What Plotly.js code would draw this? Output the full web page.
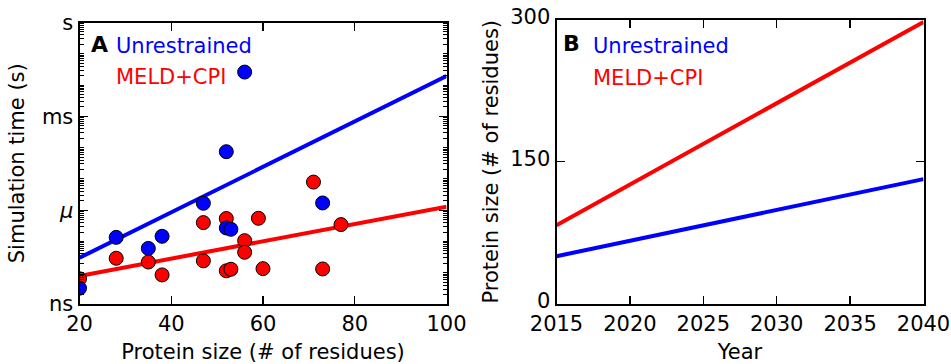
<!DOCTYPE html>
<html>
<head>
<meta charset="utf-8">
<script src="https://cdn.plot.ly/plotly-3.0.1.min.js"></script>
<style>html,body{margin:0;padding:0;background:#fff;}#chart{width:951px;height:364px;}</style>
</head>
<body>
<div id="chart"></div>
<script>
// Panel A data: protein size vs simulation time (s)
const blueSize = [20, 28, 35, 38, 47, 52, 52, 53, 56, 73];
const blueTime = [3.2e-9, 1.35e-7, 6e-8, 1.46e-7, 1.66e-6, 7.4e-5, 2.7e-7, 2.45e-7, 0.026, 1.7e-6];
const redSize = [20, 28, 35, 38, 47, 47, 52, 52, 53, 56, 56, 59, 60, 71, 73, 77];
const redTime = [6.4e-9, 2.9e-8, 2.2e-8, 8.5e-9, 4e-7, 2.4e-8, 5.4e-7, 1.15e-8, 1.29e-8, 1.06e-7, 4.5e-8, 5.5e-7, 1.35e-8, 7.9e-6, 1.32e-8, 3.45e-7];
const fitSize = [20, 100];
const blueFitTime = [3.0e-8, 1.95e-2];
const redFitTime = [7.9e-9, 1.29e-6];

// Panel B data: year vs protein size
const years = [2015, 2040];
const blueProj = [50, 131.6];
const redProj = [82.9, 298];

// Tick labels
const timeTickVals = [1e-9, 1e-6, 1e-3, 1];
const timeTickText = ['ns', '<i>μ</i>', 'ms', 's'];
const sizeTicks = [20, 40, 60, 80, 100];
const yearTicks = [2015, 2020, 2025, 2030, 2035, 2040];
const protTicks = [0, 150, 300];

const minorVals = [];
for (let d = -9; d < 0; d++) {
  for (let k = 1; k <= 9; k++) {
    if (k === 1 && d % 3 === 0) continue;
    minorVals.push(k * Math.pow(10, d));
  }
}

const BLUE = '#0000ff', RED = '#ff0000';
const FS = 21;
const font = {family: 'DejaVu Sans, sans-serif', size: FS, color: '#000'};

const traces = [
  {x: fitSize, y: blueFitTime, mode: 'lines', line: {color: BLUE, width: 4}, xaxis: 'x', yaxis: 'y'},
  {x: fitSize, y: redFitTime, mode: 'lines', line: {color: RED, width: 4}, xaxis: 'x', yaxis: 'y'},
  {x: redSize, y: redTime, mode: 'markers', marker: {color: RED, size: 14, line: {color: '#000', width: 1}}, xaxis: 'x', yaxis: 'y', cliponaxis: true},
  {x: blueSize, y: blueTime, mode: 'markers', marker: {color: BLUE, size: 14, line: {color: '#000', width: 1}}, xaxis: 'x', yaxis: 'y', cliponaxis: true},
  {x: years, y: redProj, mode: 'lines', line: {color: RED, width: 4}, xaxis: 'x2', yaxis: 'y2'},
  {x: years, y: blueProj, mode: 'lines', line: {color: BLUE, width: 4}, xaxis: 'x2', yaxis: 'y2'}
];

const axBase = {
  showline: true, linecolor: '#000', linewidth: 2, mirror: 'ticks',
  ticks: 'inside', ticklen: 8, tickwidth: 1.2, tickcolor: '#000',
  showgrid: false, zeroline: false, tickfont: font
};

const layout = {
  width: 951, height: 364,
  margin: {l: 0, r: 0, t: 0, b: 0},
  paper_bgcolor: '#fff', plot_bgcolor: '#fff',
  showlegend: false,
  font: font,
  xaxis: Object.assign({}, axBase, {
    domain: [79.5/951, 446.5/951], range: [20, 100], tickvals: sizeTicks,
    anchor: 'y', title: {text: 'Protein size (# of residues)', font: font, standoff: 10}
  }),
  yaxis: Object.assign({}, axBase, {
    domain: [1 - 304/364, 1 - 22.5/364], type: 'log', range: [-9, 0],
    tickvals: timeTickVals, ticktext: timeTickText, anchor: 'x',
    minor: {tickvals: minorVals, ticks: 'inside', ticklen: 4, tickcolor: '#000', tickwidth: 1},
    title: {text: 'Simulation time (s)', font: font, standoff: 12}
  }),
  xaxis2: Object.assign({}, axBase, {
    domain: [556.5/951, 923.5/951], range: [2015, 2040], tickvals: yearTicks,
    anchor: 'y2', title: {text: 'Year', font: font, standoff: 10}
  }),
  yaxis2: Object.assign({}, axBase, {
    domain: [1 - 303.5/364, 1 - 20/364], range: [0, 300], tickvals: protTicks,
    anchor: 'x2', ticklabelshift: -3,
    title: {text: 'Protein size (# of residues)', font: font, standoff: 6}
  }),
  annotations: [
    {xref: 'paper', yref: 'paper', x: 89/951, y: 1 - 44/364, xanchor: 'left', yanchor: 'middle', text: '<b>A</b>', showarrow: false, font: {family: 'DejaVu Sans, sans-serif', size: 22, color: '#000'}},
    {xref: 'paper', yref: 'paper', x: 114/951, y: 1 - 46/364, xanchor: 'left', yanchor: 'middle', text: 'Unrestrained', showarrow: false, font: {family: 'DejaVu Sans, sans-serif', size: FS, color: BLUE}},
    {xref: 'paper', yref: 'paper', x: 114/951, y: 1 - 77/364, xanchor: 'left', yanchor: 'middle', text: 'MELD+CPI', showarrow: false, font: {family: 'DejaVu Sans, sans-serif', size: FS, color: RED}},
    {xref: 'paper', yref: 'paper', x: 561/951, y: 1 - 43/364, xanchor: 'left', yanchor: 'middle', text: '<b>B</b>', showarrow: false, font: {family: 'DejaVu Sans, sans-serif', size: 22, color: '#000'}},
    {xref: 'paper', yref: 'paper', x: 591/951, y: 1 - 46/364, xanchor: 'left', yanchor: 'middle', text: 'Unrestrained', showarrow: false, font: {family: 'DejaVu Sans, sans-serif', size: FS, color: BLUE}},
    {xref: 'paper', yref: 'paper', x: 591/951, y: 1 - 78/364, xanchor: 'left', yanchor: 'middle', text: 'MELD+CPI', showarrow: false, font: {family: 'DejaVu Sans, sans-serif', size: FS, color: RED}}
  ]
};

Plotly.newPlot('chart', traces, layout, {staticPlot: true, displayModeBar: false});
</script>
</body>
</html>
